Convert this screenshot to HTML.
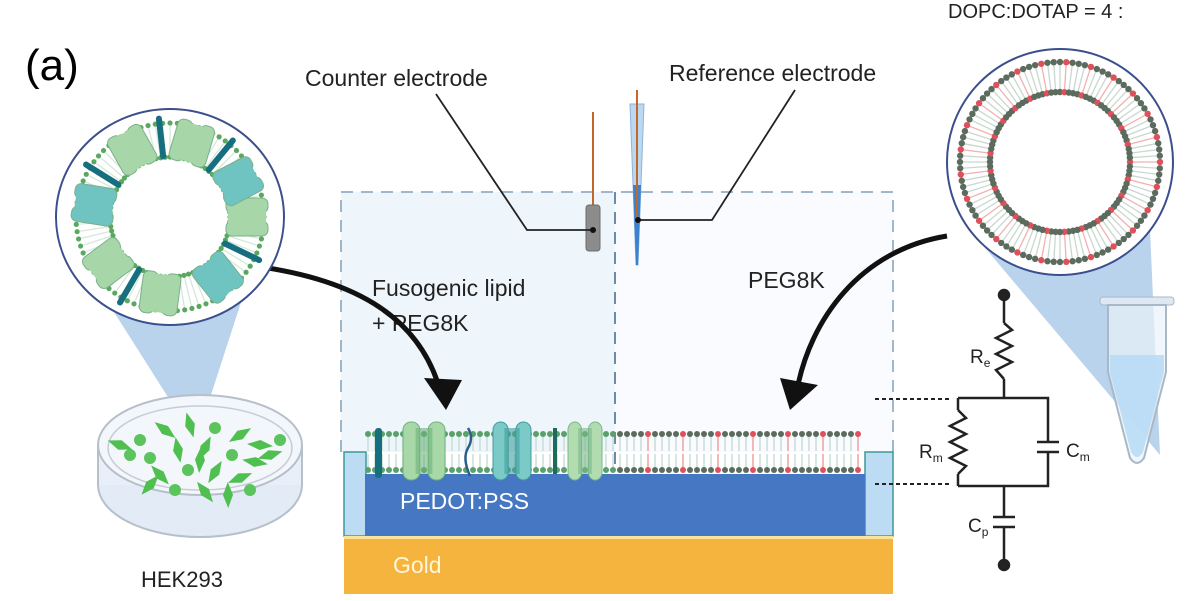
<!DOCTYPE html>
<html><head><meta charset="utf-8"><style>
html,body{margin:0;padding:0;background:#fff;}
svg{display:block;font-family:"Liberation Sans",sans-serif;}
</style></head><body>
<svg id="fig" width="1185" height="601" viewBox="0 0 1185 601">
<text x="25" y="80" font-size="44">(a)</text>
<text x="948" y="18" font-size="20" fill="#222">DOPC:DOTAP = 4 :</text>

<g>
<rect x="341" y="192" width="274" height="260" fill="#eef5fb"/>
<rect x="615" y="192" width="278" height="260" fill="#f9fbfe"/>
<path d="M341,452 V192 H893 V452" fill="none" stroke="#9fb6cc" stroke-width="2" stroke-dasharray="12,8"/>
<line x1="615" y1="192" x2="615" y2="470" stroke="#6e8aa6" stroke-width="2" stroke-dasharray="12,8"/>
</g>
<rect x="344" y="452" width="22" height="84" fill="#bcdcf3" stroke="#3a9a9a" stroke-width="1.5"/>
<rect x="865" y="452" width="28" height="84" fill="#bcdcf3" stroke="#3a9a9a" stroke-width="1.5"/>
<rect x="365" y="474" width="500" height="62" fill="#4577c2"/>
<text x="400" y="509" font-size="23" fill="#fff">PEDOT:PSS</text>
<rect x="344" y="537" width="549" height="57" fill="#f5b43d"/>
<rect x="344" y="536" width="549" height="3" fill="#fbe39a"/>
<text x="393" y="573" font-size="23" fill="#fff6dc">Gold</text>
<g id="membrane"></g>

<g>
<line x1="593" y1="112" x2="593" y2="206" stroke="#c0682a" stroke-width="2"/>
<rect x="586" y="205" width="14" height="46" rx="3" fill="#8c8c8c" stroke="#6d6d6d"/>
</g>
<g>
<path d="M630,104 L644,104 L638,265 L636,265 Z" fill="#bcd8f0" stroke="#8fb5d8"/>
<path d="M633,185 L641,185 L638,265 L636,265 Z" fill="#3b82cf"/>
<line x1="637" y1="90" x2="637" y2="220" stroke="#c0682a" stroke-width="2"/>
</g>
<polyline points="436,94 527,230 593,230" fill="none" stroke="#222" stroke-width="1.8"/>
<circle cx="593" cy="230" r="3" fill="#111"/>
<polyline points="795,90 712,220 638,220" fill="none" stroke="#222" stroke-width="1.8"/>
<circle cx="638" cy="220" r="3" fill="#111"/>
<text x="305" y="86" font-size="23" fill="#222">Counter electrode</text>
<text x="669" y="81" font-size="23" fill="#222">Reference electrode</text>
<text x="372" y="296" font-size="23" fill="#222">Fusogenic lipid</text>
<text x="372" y="331" font-size="23" fill="#222">+ PEG8K</text>
<text x="748" y="288" font-size="23" fill="#222">PEG8K</text>

<path d="M254,266 C360,280 420,320 440,390" fill="none" stroke="#111" stroke-width="5"/>
<path d="M424,378 L462,380 L446,410 Z" fill="#111"/>
<path d="M947,236 C860,250 810,320 797,390" fill="none" stroke="#111" stroke-width="5"/>
<path d="M780,378 L818,385 L790,410 Z" fill="#111"/>

<path d="M100,290 L245,290 L198,435 L192,435 Z" fill="#b9d3ec"/>
<g>
<ellipse cx="200" cy="485" rx="102" ry="52" fill="#e3ebf6" stroke="#b6bfca" stroke-width="2"/>
<rect x="98" y="445" width="204" height="40" fill="#e9eff8"/>
<line x1="98" y1="445" x2="98" y2="485" stroke="#b6bfca" stroke-width="2"/>
<line x1="302" y1="445" x2="302" y2="485" stroke="#b6bfca" stroke-width="2"/>
<ellipse cx="200" cy="445" rx="102" ry="50" fill="#f3f6fb" stroke="#b6bfca" stroke-width="2"/>
<ellipse cx="200" cy="448" rx="92" ry="42" fill="none" stroke="#c5ccd6" stroke-width="1.5"/>
<g id="cells"></g>
</g>
<text x="141" y="587" font-size="22" fill="#222">HEK293</text>
<g>
<ellipse cx="170" cy="217" rx="114" ry="108" fill="#fff" stroke="#3b4f8c" stroke-width="2"/>
<g id="cellring"></g>
</g>

<path d="M970,230 L1150,230 L1160,455 Z" fill="#b9d3ec"/>
<g>
<rect x="1100" y="297" width="74" height="8" rx="3" fill="#dde8f2" stroke="#a9b8c6"/>
<path d="M1108,305 L1166,305 L1166,372 L1144,458 Q1137,468 1130,458 L1108,372 Z" fill="#eaf2f9" fill-opacity="0.7" stroke="#a9b8c6" stroke-width="2"/>
<path d="M1110,355 L1164,355 L1164,372 L1143,452 Q1137,462 1131,452 L1110,372 Z" fill="#b6dbf4" fill-opacity="0.85"/>
</g>
<g>
<ellipse cx="1060" cy="162" rx="113" ry="113" fill="#fff" stroke="#3b4f8c" stroke-width="2"/>
<g id="vesring"></g>
</g>

<g stroke="#222" stroke-width="2.5" fill="none">
<circle cx="1004" cy="295" r="5" fill="#222"/>
<line x1="1004" y1="295" x2="1004" y2="323"/>
<polyline points="1004,323 1012,330 996,338 1012,346 996,354 1012,362 996,370 1004,379"/>
<line x1="1004" y1="379" x2="1004" y2="398"/>
<polyline points="958,398 1048,398 1048,442"/>
<line x1="1037" y1="442" x2="1059" y2="442"/><line x1="1037" y1="452" x2="1059" y2="452"/>
<polyline points="1048,452 1048,486 958,486"/>
<line x1="958" y1="398" x2="958" y2="410"/>
<polyline points="958,410 966,418 950,426 966,434 950,442 966,450 950,458 966,466 958,474"/>
<line x1="958" y1="474" x2="958" y2="486"/>
<line x1="1004" y1="486" x2="1004" y2="517"/>
<line x1="993" y1="517" x2="1015" y2="517"/><line x1="993" y1="527" x2="1015" y2="527"/>
<line x1="1004" y1="527" x2="1004" y2="565"/>
<circle cx="1004" cy="565" r="5" fill="#222"/>
<line x1="875" y1="399" x2="952" y2="399" stroke-width="2" stroke-dasharray="4,3"/>
<line x1="875" y1="484" x2="952" y2="484" stroke-width="2" stroke-dasharray="4,3"/>
</g>
<g font-size="19" fill="#222">
<text x="970" y="363">R<tspan font-size="12" dy="4">e</tspan></text>
<text x="919" y="458">R<tspan font-size="12" dy="4">m</tspan></text>
<text x="1066" y="457">C<tspan font-size="12" dy="4">m</tspan></text>
<text x="968" y="532">C<tspan font-size="12" dy="4">p</tspan></text>
</g>
</svg>
<script>
const NS="http://www.w3.org/2000/svg";
function mk(p,t,a){const e=document.createElementNS(NS,t);for(const k in a)e.setAttribute(k,a[k]);p.appendChild(e);return e;}
const m=document.getElementById('membrane');
for(let x=368;x<=862;x+=7){
  const right=x>615;
  const i=Math.round((x-368)/7);
  const red=right&&(i%5===0);
  mk(m,'line',{x1:x,y1:436,x2:x,y2:451,stroke:red?'#f0a0a0':'#c9ddd6','stroke-width':1.5});
  mk(m,'line',{x1:x,y1:454,x2:x,y2:468,stroke:red?'#f0a0a0':'#c9ddd6','stroke-width':1.5});
  const c=right?(red?'#e0505a':'#5b6b5e'):'#5aa06a';
  mk(m,'circle',{cx:x,cy:434,r:3,fill:c});
  mk(m,'circle',{cx:x,cy:470,r:3,fill:c});
}
function chan(x,w,col,dark){mk(m,'rect',{x:x,y:422,width:w*0.4,height:58,rx:8,fill:col,stroke:dark});mk(m,'rect',{x:x+w*0.6,y:422,width:w*0.4,height:58,rx:8,fill:col,stroke:dark});mk(m,'rect',{x:x+w*0.3,y:428,width:w*0.4,height:46,fill:dark,opacity:0.6});}
chan(403,42,'#a8d8a8','#6db37a');chan(493,38,'#7ccac8','#3f9e9e');chan(568,34,'#b0dcb0','#7ab88a');
mk(m,'rect',{x:375,y:428,width:7,height:50,rx:3,fill:'#156f7e'});
mk(m,'path',{d:'M468,428 q6,10 0,20 q-6,10 2,28',stroke:'#2c5d8c','stroke-width':2.5,fill:'none'});
mk(m,'rect',{x:553,y:428,width:4,height:46,fill:'#1e6a5c'});
function ring(g,cx,cy,rOut,rIn,n,colFn,tail,r){
  for(let i=0;i<n;i++){const a=i/n*Math.PI*2;const co=Math.cos(a),si=Math.sin(a);
    mk(g,'line',{x1:cx+co*(rOut-3),y1:cy+si*(rOut-3),x2:cx+co*(rIn+3),y2:cy+si*(rIn+3),stroke:tail(i),'stroke-width':1.3});
    mk(g,'circle',{cx:cx+co*rOut,cy:cy+si*rOut,r:r,fill:colFn(i,0)});
    mk(g,'circle',{cx:cx+co*rIn,cy:cy+si*rIn,r:r,fill:colFn(i,1)});}
}
const cr=document.getElementById('cellring');
ring(cr,170,217,94,60,80,()=> '#5aa860',()=> '#d4e8dc',2.6);
const prots=[0,0.9,1.7,2.5,3.3,4.2,5.0,5.8];
prots.forEach((a,k)=>{const x=170+Math.cos(a)*77,y=217+Math.sin(a)*77;const g=mk(cr,'g',{transform:`translate(${x},${y}) rotate(${a*180/Math.PI})`});
  const col=k%3===1?'#6fc3c0':'#a7d7a9';mk(g,'rect',{x:-21,y:-19,width:42,height:15,rx:6,fill:col,stroke:'#7bb08a'});mk(g,'rect',{x:-21,y:4,width:42,height:15,rx:6,fill:col,stroke:'#7bb08a'});mk(g,'rect',{x:-19,y:-6,width:38,height:12,fill:col});});
[0.45,2.1,3.7,4.6,5.4].forEach(a=>{const g=mk(cr,'g',{transform:`translate(${170+Math.cos(a)*80},${217+Math.sin(a)*80}) rotate(${a*180/Math.PI})`});mk(g,'rect',{x:-22,y:-3,width:44,height:6,rx:3,fill:'#156f7e'});});
const vr=document.getElementById('vesring');
ring(vr,1060,162,100,70,100,(i,s)=>(i%4===0?'#e0505a':'#5b6b5e'),i=>(i%4===0?'#f2b0b0':'#c9d8cf'),3.2);
const cells=document.getElementById('cells');
const cellPts=[[140,440],[165,430],[190,425],[215,428],[240,435],[260,445],[150,458],[178,450],[205,448],[232,455],[255,462],[160,475],[188,470],[215,472],[240,478],[175,490],[205,492],[228,495],[130,455],[270,455],[120,445],[280,440],[200,460],[150,485],[250,490]];
cellPts.forEach(([x,y],i)=>{if(i%3===0)mk(cells,'circle',{cx:x,cy:y,r:6,fill:'#5cc45c'});else mk(cells,'path',{d:`M${x-13},${y} L${x},${y-5} L${x+13},${y} L${x},${y+5} Z`,fill:'#4fbf4f',transform:`rotate(${i*37},${x},${y})`});});
</script>
</body></html>
